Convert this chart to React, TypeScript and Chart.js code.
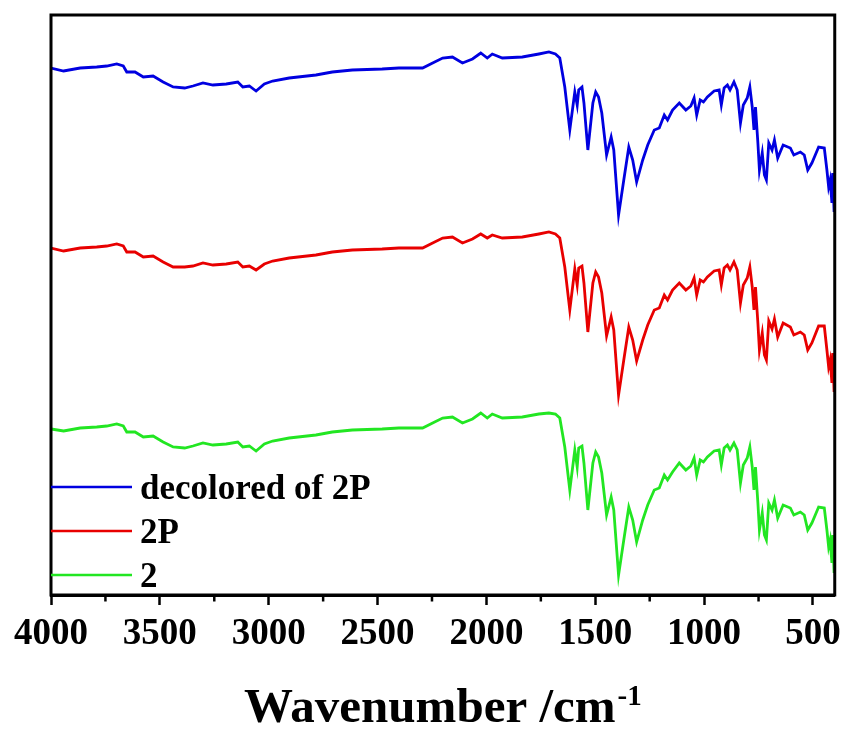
import React, { useEffect, useRef } from 'react';
import { Chart, registerables } from 'chart.js';

Chart.register(...registerables);

// Wavenumber (cm^-1) sampling shared by the three spectra
const WAVENUMBERS = [
  4000, 3942, 3866, 3790, 3744, 3698, 3668, 3652, 3614, 3576,
  3531, 3485, 3439, 3386, 3348, 3302, 3256, 3195, 3142, 3119,
  3089, 3058, 3020, 2982, 2906, 2783, 2708, 2616, 2479, 2402,
  2293, 2247, 2201, 2156, 2110, 2064, 2026, 1996, 1973, 1927,
  1835, 1759, 1713, 1683, 1663, 1640, 1617, 1594, 1583, 1576,
  1561, 1552, 1534, 1511, 1498, 1485, 1470, 1448, 1427, 1415,
  1393, 1369, 1346, 1328, 1310, 1282, 1259, 1229, 1206, 1183,
  1168, 1145, 1114, 1084, 1061, 1046, 1034, 1018, 1003, 985,
  954, 931, 921, 908, 893, 881, 863, 848, 833, 820,
  802, 790, 779, 771, 764, 753, 746, 733, 723, 714,
  703, 688, 677, 662, 637, 604, 588, 558, 540, 524,
  505, 474, 448, 436, 428, 421, 413, 409, 403, 400,
];

// Transmittance (arbitrary units, offset spectra)
const DECOLORED_2P = [
  527, 524, 527, 528, 529, 531, 529, 523, 523, 518,
  519, 513, 508, 507, 509, 512, 510, 511, 513, 508,
  509, 504, 511, 514, 517, 520, 523, 525, 526, 527,
  527, 532, 537, 538, 532, 536, 542, 537, 541, 537,
  538, 541, 543, 541, 537, 508, 465, 503, 490, 505,
  508, 492, 445, 492, 503, 498, 482, 440, 458, 445,
  380, 415, 448, 435, 413, 435, 450, 465, 467, 480,
  475, 485, 492, 485, 489, 497, 480, 495, 493, 498,
  504, 505, 490, 507, 510, 505, 513, 505, 472, 490,
  497, 508, 488, 465, 488, 452, 425, 442, 420, 415,
  452, 445, 455, 437, 450, 447, 440, 443, 440, 425,
  432, 448, 447, 425, 408, 415, 392, 422, 383, 383,
];

const SAMPLE_2P = [
  347, 344, 347, 348, 349, 351, 349, 343, 343, 338,
  339, 333, 328, 328, 329, 332, 330, 331, 333, 328,
  329, 325, 331, 334, 337, 340, 343, 345, 346, 347,
  347, 352, 357, 358, 352, 356, 361, 357, 360, 357,
  358, 361, 363, 361, 357, 328, 285, 326, 310, 327,
  329, 312, 263, 312, 323, 318, 302, 259, 278, 265,
  200, 235, 268, 255, 234, 255, 270, 285, 287, 300,
  295, 305, 312, 305, 309, 317, 300, 315, 313, 318,
  324, 325, 310, 327, 330, 325, 333, 325, 292, 310,
  317, 328, 308, 285, 308, 272, 245, 262, 240, 235,
  274, 266, 276, 258, 272, 268, 260, 263, 260, 245,
  252, 269, 269, 245, 228, 235, 212, 242, 203, 203,
];

const SAMPLE_2 = [
  166, 164, 167, 168, 169, 171, 169, 163, 163, 158,
  159, 153, 148, 147, 149, 152, 150, 151, 153, 148,
  149, 144, 151, 154, 157, 160, 163, 165, 166, 167,
  167, 172, 177, 178, 172, 176, 182, 177, 181, 177,
  178, 181, 182, 181, 177, 148, 105, 145, 128, 147,
  149, 132, 85, 132, 143, 138, 122, 80, 98, 85,
  20, 55, 88, 75, 53, 75, 90, 105, 107, 120,
  115, 123, 132, 125, 129, 137, 120, 135, 133, 138,
  144, 145, 130, 147, 150, 145, 152, 145, 112, 130,
  137, 148, 128, 105, 128, 92, 65, 82, 60, 55,
  92, 85, 95, 77, 90, 87, 80, 83, 80, 65,
  72, 88, 87, 65, 48, 55, 32, 60, 22, 22,
];

const SERIES_LABELS = ['decolored of 2P', '2P', '2'];
const SERIES_COLORS = ['#0000E0', '#E80000', '#22E622'];
const MAJOR_TICKS = [4000, 3500, 3000, 2500, 2000, 1500, 1000, 500];
const MINOR_TICKS = [3750, 3250, 2750, 2250, 1750, 1250, 750];
const X_TITLE = 'Wavenumber /cm';
const X_TITLE_SUP = '-1';

const FONT = "'Liberation Serif', 'Times New Roman', serif";

export default function App() {
  const ref = useRef<HTMLCanvasElement>(null);

  useEffect(() => {
    const canvas = ref.current;
    if (!canvas) return;
    const seriesValues = [DECOLORED_2P, SAMPLE_2P, SAMPLE_2];

    const framePlugin = {
      id: 'frame',
      afterDraw(chart: any) {
        const { ctx, chartArea: a, scales } = chart;
        ctx.save();
        // box
        ctx.strokeStyle = '#000';
        ctx.lineWidth = 3;
        ctx.strokeRect(a.left, a.top, a.right - a.left, a.bottom - a.top);
        // minor ticks
        const xs = scales.x;
        ctx.lineWidth = 2.5;
        MINOR_TICKS.forEach((v) => {
          const px = xs.getPixelForValue(v);
          ctx.beginPath();
          ctx.moveTo(px, a.bottom);
          ctx.lineTo(px, a.bottom + 6.5);
          ctx.stroke();
        });
        // legend inside plot
        chart.data.datasets.forEach((ds: any, i: number) => {
          const y = a.bottom - 108 + i * 44;
          ctx.strokeStyle = ds.borderColor;
          ctx.lineWidth = 2.5;
          ctx.beginPath();
          ctx.moveTo(a.left, y);
          ctx.lineTo(a.left + 81, y);
          ctx.stroke();
          ctx.fillStyle = '#000';
          ctx.font = `bold 35px ${FONT}`;
          ctx.textBaseline = 'alphabetic';
          ctx.textAlign = 'left';
          ctx.fillText(ds.label, a.left + 89, y + 11.5);
        });
        // axis title with superscript
        ctx.fillStyle = '#000';
        ctx.textBaseline = 'alphabetic';
        ctx.textAlign = 'left';
        ctx.font = `bold 49px ${FONT}`;
        const w1 = ctx.measureText(X_TITLE).width;
        ctx.font = `bold 29px ${FONT}`;
        const w2 = ctx.measureText(X_TITLE_SUP).width;
        const cx = (a.left + a.right) / 2;
        const start = cx - (w1 + w2 + 2) / 2;
        ctx.font = `bold 49px ${FONT}`;
        ctx.fillText(X_TITLE, start, a.bottom + 127);
        ctx.font = `bold 29px ${FONT}`;
        ctx.fillText(X_TITLE_SUP, start + w1 + 2, a.bottom + 110);
        ctx.restore();
      },
    };

    const chart = new Chart(canvas, {
      type: 'line',
      data: {
        datasets: seriesValues.map((vals, k) => ({
          label: SERIES_LABELS[k],
          data: WAVENUMBERS.map((x, i) => ({ x, y: vals[i] })),
          borderColor: SERIES_COLORS[k],
          backgroundColor: SERIES_COLORS[k],
          borderWidth: 2.8,
          pointRadius: 0,
          tension: 0,
          fill: false,
        })),
      },
      options: {
        animation: false,
        responsive: false,
        layout: { padding: { left: 51, right: 10, top: 15, bottom: 0 } },
        plugins: {
          legend: { display: false },
          tooltip: { enabled: false },
        },
        scales: {
          x: {
            type: 'linear',
            reverse: true,
            min: 400,
            max: 4000,
            afterBuildTicks: (scale: any) => {
              scale.ticks = MAJOR_TICKS.map((v) => ({ value: v }));
            },
            afterFit: (scale: any) => {
              scale.height = 134;
            },
            grid: {
              display: true,
              drawOnChartArea: false,
              drawTicks: true,
              tickLength: 10,
              tickWidth: 2.5,
              tickColor: '#000',
            },
            border: { display: true, width: 3, color: '#000' },
            ticks: {
              autoSkip: false,
              maxRotation: 0,
              padding: 7,
              color: '#000',
              font: { family: FONT, size: 37, weight: 'bold' },
              callback: (v: any) => String(v),
            },
          },
          y: {
            display: false,
            min: 0,
            max: 580,
          },
        },
      },
      plugins: [framePlugin],
    } as any);

    return () => chart.destroy();
  }, []);

  return (
    <div style={{ position: 'absolute', left: 0, top: 0, width: 848, height: 729, background: '#fff' }}>
      <canvas ref={ref} width={848} height={729} style={{ display: 'block' }} />
    </div>
  );
}
